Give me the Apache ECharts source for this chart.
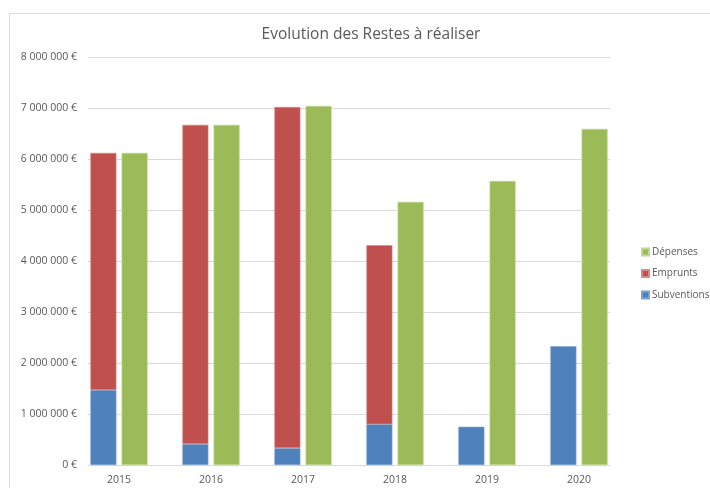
<!DOCTYPE html>
<html>
<head>
<meta charset="utf-8">
<script src="https://cdn.jsdelivr.net/npm/echarts@6/dist/echarts.min.js"></script>
<style>
html,body{margin:0;padding:0;background:#fff;}
#chart{width:710px;height:488px;}
</style>
</head>
<body>
<div id="chart"></div>
<script>
const categories = ['2015', '2016', '2017', '2018', '2019', '2020'];
const subventions = [1470000, 410000, 330000, 800000, 750000, 2330000];
const emprunts = [4650000, 6260000, 6690000, 3510000, 0, 0];
const depenses = [6120000, 6670000, 7040000, 5160000, 5570000, 6590000];
const yTicks = { min: 0, max: 8000000, interval: 1000000 };

const FONT = '"Open Sans", "Noto Sans", sans-serif';
const TXT = '#595959';

function fmtEuro(v) {
  const s = Math.round(v).toString().replace(/\B(?=(\d{3})+(?!\d))/g, ' ');
  return s + ' €';
}
// zero-height segments are not drawn (no stray border line)
const nz = arr => arr.map(v => (v === 0 ? null : v));

const chart = echarts.init(document.getElementById('chart'));
chart.setOption({
  backgroundColor: '#ffffff',
  animation: false,
  title: {
    text: 'Evolution des Restes à réaliser',
    left: 366,
    textAlign: 'center',
    top: 22,
    textStyle: { fontFamily: FONT, fontSize: 15.5, fontWeight: 'normal', color: TXT }
  },
  graphic: [{
    type: 'rect',
    shape: { x: 9.5, y: 13.5, width: 720, height: 520 },
    style: { fill: 'none', stroke: '#d9d9d9', lineWidth: 1 },
    silent: true, z: -10
  }],
  legend: {
    data: ['Dépenses', 'Emprunts', 'Subventions'],
    orient: 'vertical',
    left: 636,
    top: 241,
    itemWidth: 7,
    itemHeight: 7,
    itemGap: 9.5,
    icon: 'rect',
    textStyle: { fontFamily: FONT, fontSize: 10, color: TXT, lineHeight: 12, padding: [0, 0, 0, -2] }
  },
  grid: [
    { left: 73, right: 85, top: 57, bottom: 23 },
    { left: 88, right: 100, top: 57, bottom: 23 }
  ],
  xAxis: [
    {
      type: 'category', gridIndex: 0, data: categories,
      axisLine: { show: false }, axisTick: { show: false },
      axisLabel: { fontFamily: FONT, fontSize: 10.5, color: TXT, margin: 10 }
    },
    {
      type: 'category', gridIndex: 1, data: categories,
      axisLine: { show: true, lineStyle: { color: '#d9d9d9', width: 1 } },
      axisTick: { show: false }, axisLabel: { show: false }
    }
  ],
  yAxis: [
    {
      type: 'value', gridIndex: 0, min: yTicks.min, max: yTicks.max, interval: yTicks.interval,
      show: false, splitLine: { show: false }
    },
    {
      type: 'value', gridIndex: 1, min: yTicks.min, max: yTicks.max, interval: yTicks.interval,
      axisLine: { show: false }, axisTick: { show: false },
      splitLine: { show: true, lineStyle: { color: '#d9d9d9', width: 1 } },
      axisLabel: { fontFamily: FONT, fontSize: 10.5, color: TXT, margin: 11, formatter: fmtEuro }
    }
  ],
  series: [
    {
      name: 'Subventions', type: 'bar', stack: 'rec', xAxisIndex: 0, yAxisIndex: 0,
      data: nz(subventions), barWidth: 26, barGap: '20%',
      itemStyle: { color: '#4F81BD', borderColor: '#7da2d0', borderWidth: 0.6 }
    },
    {
      name: 'Emprunts', type: 'bar', stack: 'rec', xAxisIndex: 0, yAxisIndex: 0,
      data: nz(emprunts), barWidth: 26, barGap: '20%',
      itemStyle: { color: '#C0504D', borderColor: '#d88a88', borderWidth: 0.6 }
    },
    {
      name: 'Dépenses', type: 'bar', stack: 'dep', xAxisIndex: 0, yAxisIndex: 0,
      data: nz(depenses), barWidth: 26, barGap: '20%',
      itemStyle: { color: '#9BBB59', borderColor: '#c0d990', borderWidth: 0.6 }
    }
  ]
});
</script>
</body>
</html>
